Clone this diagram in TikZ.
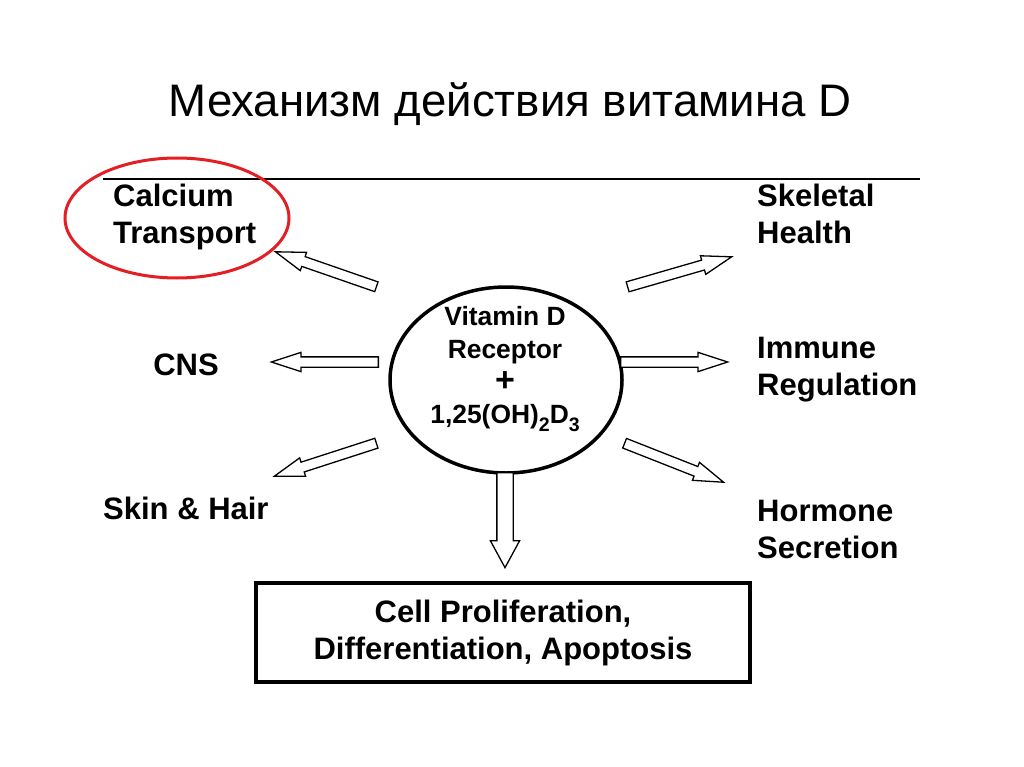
\documentclass[tikz,border=0pt]{standalone}
\usepackage{fontspec}
\setmainfont{Liberation Sans}
\usetikzlibrary{shapes.arrows,shapes.geometric,calc}

\definecolor{markred}{RGB}{228,30,36}

\tikzset{
	effect/.style={font=\fontsize{31}{37}\selectfont\bfseries, align=left, inner sep=0pt},
	receptor/.style={ellipse, draw, line width=3.5pt, minimum width=232pt, minimum height=186pt, inner sep=0pt},
	blockarrow/.style={single arrow, draw, line width=1.3pt, fill=white, inner xsep=0pt, inner ysep=4.5pt,
			single arrow head extend=4.5pt, single arrow tip angle=36},
	bigarrow/.style={blockarrow, inner ysep=7.5pt, single arrow head extend=6.5pt, single arrow tip angle=57},
}

% hollow block arrow from tail #2 to tip #3
\newcommand{\hollowarrow}[3][blockarrow]{%
	\path let \p1=($(#3)-(#2)$) in
		node[#1, anchor=tail, rotate={atan2(\y1,\x1)}, minimum height={veclen(\x1,\y1)}] at (#2) {};}
% subscript as set in the receptor label
\newcommand{\lowsub}[1]{\raisebox{-0.28em}{\fontsize{19.5}{19.5}\selectfont #1}}

\begin{document}
\begin{tikzpicture}[x=1pt, y=-1pt]
		% Page area
		\useasboundingbox[fill=white] (0,0) rectangle (1024,767);

		% Title and rule under it
		\node[anchor=base, font=\fontsize{45.6}{50}\selectfont] (title) at (510,117) {Механизм действия витамина D};
		\coordinate (rule-l) at (103,179);
		\coordinate (rule-r) at (920,179);
		\draw[line width=1.5pt] (rule-l) -- (rule-r);

		% Receptor in the middle
		\node[receptor] (vdr) at (506,380) {};
		\node[font=\fontsize{26.4}{32.7}\selectfont\bfseries, align=center, inner sep=0pt] (vdr-text) at (505,369)
			{Vitamin D\\Receptor\\{\fontsize{34}{32.7}\selectfont +}\\1,25(OH)\lowsub{2}D\lowsub{3}};

		% Effects
		\node[effect, anchor=west] (calcium) at (113,217) {Calcium\\Transport};
		\node[effect, anchor=west] (skeletal) at (757,214) {Skeletal\\Health};
		\node[effect] (cns) at (186,365) {CNS};
		\node[effect, anchor=west] (immune) at (757,370) {Immune\\Regulation};
		\node[effect, anchor=west] (skin) at (103,508) {Skin \& Hair};
		\node[effect, anchor=west] (hormone) at (757,529) {Hormone\\Secretion};
		\node[effect, align=center, draw, line width=3.5pt, minimum width=494pt, minimum height=99pt] (cell) at (503,632.5)
			{Cell Proliferation,\\Differentiation, Apoptosis};

		% Red mark round calcium transport
		\draw[markred, line width=3pt] (177,218) ellipse [x radius=112pt, y radius=60pt];

		% Arrow ends
		\coordinate (calcium-tail) at (377,287);
		\coordinate (calcium-tip) at (276,252);
		\coordinate (skeletal-tail) at (627,287);
		\coordinate (skeletal-tip) at (731,257);
		\coordinate (cns-tail) at (379,362);
		\coordinate (cns-tip) at (272,362);
		\coordinate (immune-tail) at (620,362);
		\coordinate (immune-tip) at (727,362);
		\coordinate (skin-tail) at (377,443);
		\coordinate (skin-tip) at (275,476);
		\coordinate (hormone-tail) at (624,443);
		\coordinate (hormone-tip) at (723,482);
		\coordinate (cell-tail) at (505,472);
		\coordinate (cell-tip) at (505,567);

		% Arrows
		\foreach \eff in {calcium,skeletal,cns,immune,skin,hormone} {
				\hollowarrow{\eff-tail}{\eff-tip}
			}
		\hollowarrow[bigarrow]{cell-tail}{cell-tip}
	\end{tikzpicture}
\end{document}
